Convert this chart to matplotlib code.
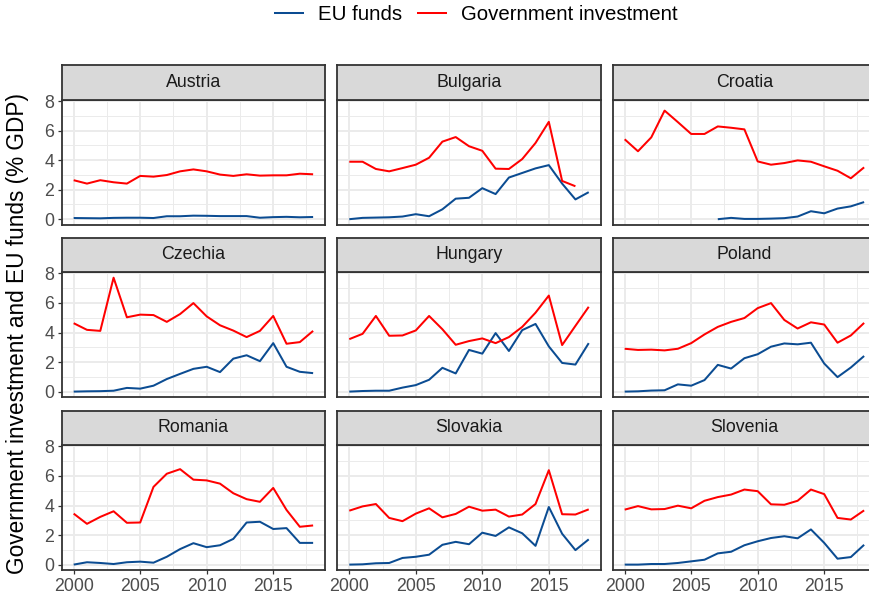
import numpy as np
import matplotlib
matplotlib.use("Agg")
import matplotlib.pyplot as plt
from matplotlib.lines import Line2D
from matplotlib.ticker import MultipleLocator

plt.rcParams['font.family'] = ['Liberation Sans', 'DejaVu Sans']

years = list(range(2000, 2019))
countries = ["Austria", "Bulgaria", "Croatia",
             "Czechia", "Hungary", "Poland",
             "Romania", "Slovakia", "Slovenia"]
nan = np.nan

eu_austria = [0.08, 0.07, 0.06, 0.09, 0.10, 0.10, 0.08, 0.20, 0.20, 0.24, 0.23, 0.21, 0.21, 0.21, 0.10, 0.14, 0.16, 0.13, 0.15]
gi_austria = [2.64, 2.41, 2.64, 2.50, 2.41, 2.93, 2.88, 2.99, 3.24, 3.37, 3.24, 3.02, 2.93, 3.04, 2.95, 2.97, 2.97, 3.08, 3.04]

eu_bulgaria = [0.00, 0.09, 0.11, 0.13, 0.18, 0.34, 0.20, 0.67, 1.39, 1.45, 2.10, 1.70, 2.82, 3.13, 3.44, 3.66, 2.41, 1.34, 1.83]
gi_bulgaria = [3.89, 3.89, 3.40, 3.24, 3.46, 3.69, 4.16, 5.25, 5.56, 4.94, 4.63, 3.42, 3.40, 4.07, 5.16, 6.59, 2.59, 2.23, nan]

eu_croatia = [nan, nan, nan, nan, nan, nan, nan, 0.00, 0.09, 0.02, 0.02, 0.04, 0.07, 0.18, 0.54, 0.40, 0.72, 0.87, 1.16]
gi_croatia = [5.41, 4.60, 5.54, 7.35, 6.57, 5.77, 5.77, 6.28, 6.19, 6.08, 3.91, 3.69, 3.80, 3.98, 3.89, 3.58, 3.28, 2.77, 3.51]

eu_czechia = [0.00, 0.02, 0.03, 0.06, 0.25, 0.20, 0.40, 0.85, 1.20, 1.54, 1.68, 1.32, 2.23, 2.46, 2.06, 3.28, 1.68, 1.34, 1.25]
gi_czechia = [4.63, 4.18, 4.11, 7.71, 5.03, 5.21, 5.18, 4.72, 5.25, 5.99, 5.09, 4.49, 4.13, 3.69, 4.11, 5.12, 3.24, 3.35, 4.11]

eu_hungary = [0.00, 0.04, 0.06, 0.06, 0.27, 0.44, 0.80, 1.61, 1.23, 2.82, 2.57, 3.96, 2.75, 4.16, 4.58, 3.06, 1.94, 1.83, 3.28]
gi_hungary = [3.55, 3.91, 5.12, 3.78, 3.80, 4.14, 5.12, 4.22, 3.17, 3.42, 3.60, 3.28, 3.69, 4.38, 5.34, 6.50, 3.15, 4.45, 5.74]

eu_poland = [0.00, 0.02, 0.07, 0.09, 0.49, 0.40, 0.78, 1.81, 1.56, 2.26, 2.53, 3.04, 3.26, 3.20, 3.31, 1.90, 0.98, 1.63, 2.41]
gi_poland = [2.90, 2.82, 2.84, 2.79, 2.90, 3.28, 3.87, 4.38, 4.72, 4.98, 5.65, 5.99, 4.85, 4.27, 4.69, 4.54, 3.31, 3.80, 4.65]

eu_romania = [0.00, 0.16, 0.11, 0.04, 0.16, 0.20, 0.13, 0.53, 1.05, 1.45, 1.18, 1.31, 1.74, 2.85, 2.90, 2.41, 2.47, 1.47, 1.47]
gi_romania = [3.45, 2.76, 3.23, 3.61, 2.83, 2.85, 5.26, 6.15, 6.46, 5.75, 5.70, 5.48, 4.83, 4.43, 4.25, 5.19, 3.70, 2.56, 2.65]

eu_slovakia = [0.00, 0.02, 0.09, 0.11, 0.45, 0.53, 0.67, 1.34, 1.54, 1.38, 2.16, 1.94, 2.52, 2.12, 1.27, 3.90, 2.09, 0.98, 1.71]
gi_slovakia = [3.65, 3.94, 4.10, 3.16, 2.94, 3.45, 3.81, 3.20, 3.43, 3.92, 3.65, 3.72, 3.25, 3.39, 4.10, 6.39, 3.41, 3.39, 3.74]

eu_slovenia = [0.00, 0.00, 0.04, 0.04, 0.11, 0.22, 0.33, 0.76, 0.87, 1.31, 1.58, 1.80, 1.92, 1.78, 2.38, 1.47, 0.40, 0.51, 1.34]
gi_slovenia = [3.72, 3.96, 3.74, 3.76, 3.99, 3.81, 4.32, 4.57, 4.74, 5.08, 4.97, 4.08, 4.05, 4.32, 5.08, 4.77, 3.16, 3.05, 3.67]

eu_funds = [eu_austria, eu_bulgaria, eu_croatia, eu_czechia, eu_hungary,
            eu_poland, eu_romania, eu_slovakia, eu_slovenia]
gov_inv = [gi_austria, gi_bulgaria, gi_croatia, gi_czechia, gi_hungary,
           gi_poland, gi_romania, gi_slovakia, gi_slovenia]

x_ticks = [2000, 2005, 2010, 2015]
y_ticks = [0, 2, 4, 6, 8]
series_labels = ["EU funds", "Government investment"]

BLUE = "#0B4C92"
RED = "#FF0000"
GRID = "#EBEBEB"
BORDER = "#333333"

W, H = 869, 599
fig = plt.figure(figsize=(W / 100, H / 100), dpi=100)

col_left = [61.7, 337.3, 612.7]
panel_w = 263.4
panel_top = [99.6, 272.0, 445.0]
panel_h = 125.3
strip_h = 34.5

def fx(px):
    return px / W

def fy(py):
    return 1 - py / H

allvals = np.concatenate([np.array(v, dtype=float) for v in eu_funds + gov_inv])
ymin, ymax = np.nanmin(allvals), np.nanmax(allvals)
yr = ymax - ymin
ylim = (ymin - 0.05 * yr, ymax + 0.05 * yr)
xr = years[-1] - years[0]
xlim = (years[0] - 0.05 * xr, years[-1] + 0.05 * xr)

for i, name in enumerate(countries):
    r, c = divmod(i, 3)
    left = col_left[c]
    top = panel_top[r]
    ax = fig.add_axes([fx(left), fy(top + panel_h), panel_w / W, panel_h / H])
    ax.set_facecolor("white")
    ax.set_xlim(*xlim)
    ax.set_ylim(*ylim)
    ax.xaxis.set_major_locator(MultipleLocator(5))
    ax.xaxis.set_minor_locator(MultipleLocator(2.5))
    ax.yaxis.set_major_locator(MultipleLocator(2))
    ax.yaxis.set_minor_locator(MultipleLocator(1))
    ax.set_xticks(x_ticks)
    ax.set_yticks(y_ticks)
    ax.grid(which="major", color=GRID, lw=1.4, zorder=0)
    ax.grid(which="minor", color=GRID, lw=0.7, zorder=0)
    ax.set_axisbelow(True)
    for s in ax.spines.values():
        s.set_color(BORDER)
        s.set_linewidth(1.3)
        s.set_zorder(5)
    ax.tick_params(which="minor", length=0)
    ax.tick_params(which="major", length=3.2, width=0.9, color=BORDER,
                   labelsize=12.8, labelcolor="#4D4D4D", pad=2)
    if c != 0:
        ax.tick_params(axis="y", length=0, labelleft=False)
    if r != 2:
        ax.tick_params(axis="x", length=0, labelbottom=False)

    ax.plot(years, eu_funds[i], color=BLUE, lw=1.45, zorder=3,
            solid_capstyle="butt")
    ax.plot(years, gov_inv[i], color=RED, lw=1.45, zorder=3,
            solid_capstyle="butt")

    sax = fig.add_axes([fx(left), fy(top), panel_w / W, strip_h / H])
    sax.set_facecolor("#D9D9D9")
    sax.set_xticks([])
    sax.set_yticks([])
    for s in sax.spines.values():
        s.set_color(BORDER)
        s.set_linewidth(1.3)
    sax.text(0.5, 0.5, name, transform=sax.transAxes, ha="center",
             va="center", fontsize=12.8, color="#1A1A1A")

fig.text(fx(18), fy(333), "Government investment and EU funds (% GDP)",
         rotation=90, ha="center", va="center", fontsize=16.3, color="black")

handles = [Line2D([], [], color=BLUE, lw=1.45),
           Line2D([], [], color=RED, lw=1.45)]
fig.legend(handles, series_labels, loc="center",
           bbox_to_anchor=(fx(476.5), fy(14.3)), ncol=2, frameon=False,
           fontsize=14.7, handlelength=1.37, handletextpad=0.73,
           columnspacing=0.8, borderpad=0, borderaxespad=0)

fig.savefig("out.png", dpi=100)
